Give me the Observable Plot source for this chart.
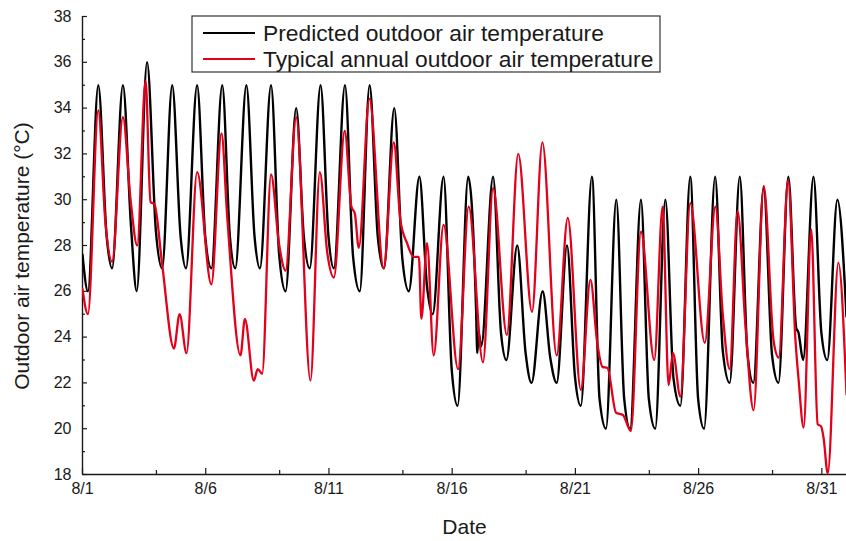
<!DOCTYPE html>
<html>
<head>
<meta charset="utf-8">
<script src="https://cdn.jsdelivr.net/npm/d3@7"></script>
<script src="https://cdn.jsdelivr.net/npm/@observablehq/plot@0.6"></script>
<style>
  html, body { margin: 0; padding: 0; background: #fff; }
  #chart { width: 846px; height: 541px; }
</style>
</head>
<body>
<div id="chart"></div>
<script>
// Time axis: days elapsed since 8/1 00:00 (August, hourly-resolution curves)
const dayTicks = [0, 5, 10, 15, 20, 25, 30];
const dayTickLabels = ["8/1", "8/6", "8/11", "8/16", "8/21", "8/26", "8/31"];
const dayMinorTicks = [3, 8, 13, 18, 23, 28];

const tempTicks = [18, 20, 22, 24, 26, 28, 30, 32, 34, 36, 38];
const tempMinorTicks = [19, 21, 23, 25, 27, 29, 31, 33, 35, 37];

// Predicted outdoor air temperature, [day, °C]
const predicted = [
  [0, 27.6], [0.22, 26], [0.64, 35], [0.98, 28.4],
  [1.2, 27], [1.64, 35], [1.97, 28.8],
  [2.2, 26], [2.62, 36], [2.98, 28.6],
  [3.23, 27], [3.64, 35], [3.98, 28.4],
  [4.2, 27], [4.65, 35], [4.98, 28.4],
  [5.23, 27], [5.67, 35], [5.98, 28.4],
  [6.2, 27], [6.65, 35], [6.98, 28.4],
  [7.2, 27], [7.65, 35], [7.98, 27.6],
  [8.24, 26], [8.67, 34], [8.98, 28.4],
  [9.22, 27], [9.66, 35], [9.98, 28.4],
  [10.2, 27], [10.65, 35], [10.98, 27.5],
  [11.25, 26], [11.65, 35], [11.98, 28.4],
  [12.23, 27], [12.65, 34], [12.98, 27.4],
  [13.24, 26], [13.67, 31], [13.98, 26.2],
  [14.21, 25], [14.65, 31], [14.98, 22.6],
  [15.22, 21], [15.65, 31], [15.97, 25.2], [16.02, 23.3], [16.07, 24.2], [16.18, 23.6],
  [16.66, 31], [16.98, 24.2],
  [17.2, 23], [17.64, 28], [17.98, 23.3],
  [18.22, 22], [18.67, 26], [18.98, 23.1],
  [19.24, 22], [19.66, 28], [19.98, 22.3],
  [20.22, 21], [20.67, 31], [20.98, 21.3],
  [21.24, 20], [21.66, 30], [21.98, 21.3],
  [22.22, 20], [22.66, 30], [22.98, 21.3],
  [23.24, 20], [23.65, 30], [23.98, 22.2],
  [24.26, 21], [24.66, 31], [24.98, 21.3],
  [25.22, 20], [25.67, 31], [25.98, 23.4],
  [26.26, 22], [26.67, 31], [26.98, 23.3],
  [27.22, 22], [27.64, 30.5], [27.98, 23.2],
  [28.24, 22], [28.64, 31], [28.96, 24.4], [29.05, 24.2],
  [29.24, 23], [29.66, 31], [29.98, 24.2],
  [30.22, 23], [30.63, 30], [31, 24.9]
];

// Typical annual outdoor air temperature, [day, °C]
const typical = [
  [0, 26.1], [0.22, 25.0], [0.64, 33.9], [0.93, 29.0], [1.2, 27.3],
  [1.64, 33.6], [1.95, 30.0], [2.22, 28.0], [2.56, 35.2], [2.76, 29.9],
  [2.92, 29.8], [3.23, 27.2], [3.71, 23.5], [3.94, 25.0], [4.22, 23.3],
  [4.65, 31.2], [5.23, 26.3], [5.64, 32.9], [5.87, 29.3], [6.41, 23.2],
  [6.59, 24.8], [6.95, 22.1], [7.11, 22.6], [7.29, 22.4], [7.65, 31.1],
  [7.97, 28.1], [8.24, 26.9], [8.67, 33.6], [9.25, 22.1], [9.63, 31.2],
  [9.93, 27.7], [10.2, 26.6], [10.64, 33.0], [10.91, 29.7], [11.05, 29.4],
  [11.21, 27.9], [11.64, 34.4], [12.22, 27.0], [12.63, 32.5], [12.9, 29.1],
  [13.17, 28.1], [13.44, 27.5], [13.65, 27.5], [13.75, 24.8], [13.98, 28.1],
  [14.25, 23.2], [14.65, 28.9], [15.24, 22.6], [15.67, 29.7], [16.25, 22.9],
  [16.66, 30.5], [17.22, 24.1], [17.68, 32.0], [18.24, 25.1], [18.66, 32.5],
  [19.24, 23.2], [19.69, 29.2], [20.22, 21.7], [20.61, 26.5], [20.88, 23.8],
  [21.1, 22.7], [21.3, 22.65], [21.65, 20.7], [21.93, 20.6], [22.25, 19.9],
  [22.66, 28.6], [23.2, 23.0], [23.54, 29.7], [23.78, 21.9], [23.96, 23.3],
  [24.26, 21.4], [24.66, 29.85], [25.25, 23.75], [25.68, 29.7], [25.98, 25.0],
  [26.26, 22.6], [26.58, 29.5], [26.9, 24.5], [27.23, 20.8], [27.64, 30.6],
  [28.04, 23.85], [28.25, 23.1], [28.63, 30.85], [28.93, 23.85], [29.06, 22.1],
  [29.26, 20.05], [29.57, 28.7], [29.83, 20.2], [29.97, 20.1], [30.07, 19.6],
  [30.24, 18.05], [30.67, 27.25], [31, 21.5]
];

const seriesNames = ["Predicted outdoor air temperature", "Typical annual outdoor air temperature"];
const seriesColors = ["#000000", "#e3001b"];

const font = "'Liberation Sans', Arial, Helvetica, sans-serif";
const ink = "#1a1a1a";

const chart = Plot.plot({
  width: 846,
  height: 541,
  marginLeft: 82,
  marginRight: 0,
  marginTop: 16,
  marginBottom: 67,
  style: {fontFamily: font, fontSize: "16px", color: ink, background: "#fff", overflow: "visible"},
  x: {domain: [0, 31]},
  y: {domain: [18, 38]},
  marks: [
    // inward-pointing major and minor ticks
    Plot.axisY({ticks: tempTicks, tickSize: -5, tickPadding: 16, fontSize: 16, label: null, stroke: ink, strokeWidth: 1.2}),
    Plot.axisY({ticks: tempMinorTicks, tickSize: -3, tickFormat: () => "", label: null, stroke: ink, strokeWidth: 1.2}),
    Plot.axisX({ticks: dayTicks, tickSize: -6, tickPadding: 14, fontSize: 16, label: null, stroke: ink, strokeWidth: 1.2,
      tickFormat: d => dayTickLabels[dayTicks.indexOf(d)]}),
    Plot.axisX({ticks: dayMinorTicks, tickSize: -4, tickFormat: () => "", label: null, stroke: ink, strokeWidth: 1.2}),
    Plot.ruleX([0], {stroke: ink, strokeWidth: 1.4}),
    Plot.ruleY([18], {stroke: ink, strokeWidth: 1.4}),
    Plot.line(predicted, {x: d => d[0], y: d => d[1], stroke: seriesColors[0], strokeWidth: 2.4, curve: "monotone-x", clip: true}),
    Plot.line(typical, {x: d => d[0], y: d => d[1], stroke: seriesColors[1], strokeWidth: 2.3, curve: "monotone-x", clip: true}),
    Plot.text(["Date"], {frameAnchor: "bottom", dy: 53, fontSize: 21, fill: ink, lineAnchor: "middle"})
  ]
});

document.getElementById("chart").appendChild(chart);

const svg = d3.select(chart);

// Rotated y-axis title
svg.append("text")
  .attr("transform", "translate(29,256) rotate(-90)")
  .attr("text-anchor", "middle")
  .attr("font-family", font)
  .attr("font-size", 21)
  .attr("fill", ink)
  .text("Outdoor air temperature (°C)");

// Boxed legend in the upper part of the plot area
const legend = svg.append("g")
  .attr("font-family", font)
  .attr("font-size", 22.8)
  .attr("fill", ink)
  .attr("text-anchor", "start");
legend.append("rect")
  .attr("x", 192).attr("y", 16).attr("width", 468).attr("height", 56)
  .attr("fill", "#fff").attr("stroke", "#333").attr("stroke-width", 1.2);
seriesNames.forEach((name, i) => {
  const cy = 33 + i * 26;
  legend.append("line")
    .attr("x1", 203).attr("x2", 255).attr("y1", cy).attr("y2", cy)
    .attr("stroke", seriesColors[i]).attr("stroke-width", 2);
  legend.append("text")
    .attr("x", 263).attr("y", cy + 8)
    .text(name);
});
</script>
</body>
</html>
